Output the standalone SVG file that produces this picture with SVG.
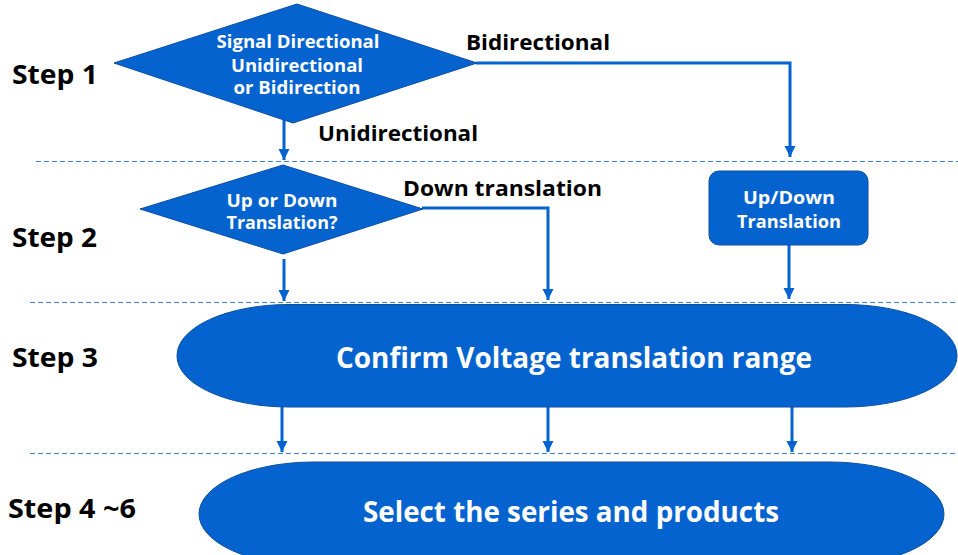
<svg xmlns="http://www.w3.org/2000/svg" width="958" height="555" viewBox="0 0 958 555">
  <style>
    .shape { fill: #0563CF; stroke: #0A4FA0; stroke-width: 1; }
    .wt { fill: #ffffff; font-family: "Open Sans", "Noto Sans", "DejaVu Sans", sans-serif; font-weight: bold; text-anchor: middle; }
    .bt { fill: #000000; font-family: "Open Sans", "Noto Sans", "DejaVu Sans", sans-serif; font-weight: bold; }
    .sep { stroke: #3F7FD6; stroke-width: 1; stroke-dasharray: 5 3; fill: none; }
    .conn { stroke: #0563CF; stroke-width: 3; fill: none; marker-end: url(#arrow); }
  </style>
  <defs>
    <marker id="arrow" markerUnits="userSpaceOnUse" markerWidth="12" markerHeight="12" refX="11" refY="6" orient="auto">
      <path d="M0,0.5 L11,6 L0,11.5 z" fill="#0563CF"/>
    </marker>
  </defs>

  <rect width="958" height="555" fill="#ffffff"/>

  <!-- step separators -->
  <g id="separators">
    <line class="sep" x1="36" y1="161.5" x2="958" y2="161.5"/>
    <line class="sep" x1="30" y1="302.5" x2="958" y2="302.5"/>
    <line class="sep" x1="30" y1="453.5" x2="958" y2="453.5"/>
  </g>

  <!-- step labels -->
  <g id="step-labels">
    <text class="bt" x="12" y="84" font-size="27" textLength="86" lengthAdjust="spacingAndGlyphs">Step 1</text>
    <text class="bt" x="12" y="247" font-size="27" textLength="85" lengthAdjust="spacingAndGlyphs">Step 2</text>
    <text class="bt" x="12" y="367" font-size="27" textLength="86" lengthAdjust="spacingAndGlyphs">Step 3</text>
    <text class="bt" x="8" y="518" font-size="27" textLength="128" lengthAdjust="spacingAndGlyphs">Step 4 ~6</text>
  </g>

  <!-- connectors -->
  <g id="connectors">
    <path class="conn" d="M284,118 L284,160"/>
    <path class="conn" d="M476,63 L790,63 L790,157"/>
    <path class="conn" d="M422,208 L548,208 L548,300"/>
    <path class="conn" d="M284,259 L284,301"/>
    <path class="conn" d="M789,245 L789,299"/>
    <path class="conn" d="M282,406 L282,452"/>
    <path class="conn" d="M548,406 L548,452"/>
    <path class="conn" d="M792,406 L792,452"/>
    <text class="bt" x="466" y="50" font-size="22" textLength="144" lengthAdjust="spacingAndGlyphs">Bidirectional</text>
    <text class="bt" x="318" y="141" font-size="22" textLength="160" lengthAdjust="spacingAndGlyphs">Unidirectional</text>
    <text class="bt" x="403" y="196" font-size="22" textLength="199" lengthAdjust="spacingAndGlyphs">Down translation</text>
  </g>

  <!-- decision: signal direction -->
  <g id="decision-direction">
    <polygon class="shape" points="297,4 477,63 293,123 114,63"/>
    <text class="wt" x="298" y="48" font-size="17.5" textLength="163" lengthAdjust="spacingAndGlyphs">Signal Directional</text>
    <text class="wt" x="297" y="72" font-size="17.5" textLength="132" lengthAdjust="spacingAndGlyphs">Unidirectional</text>
    <text class="wt" x="297" y="94" font-size="17.5" textLength="127" lengthAdjust="spacingAndGlyphs">or Bidirection</text>
  </g>

  <!-- decision: up or down -->
  <g id="decision-updown">
    <polygon class="shape" points="283,165 423,209 283,254 140,209"/>
    <text class="wt" x="282" y="207" font-size="17.5" textLength="111" lengthAdjust="spacingAndGlyphs">Up or Down</text>
    <text class="wt" x="282" y="229" font-size="17.5" textLength="111" lengthAdjust="spacingAndGlyphs">Translation?</text>
  </g>

  <!-- process: up/down translation -->
  <g id="process-updown">
    <rect class="shape" x="709" y="171" width="159" height="74" rx="10" ry="10"/>
    <text class="wt" x="789" y="204" font-size="17.5" textLength="92" lengthAdjust="spacingAndGlyphs">Up/Down</text>
    <text class="wt" x="789" y="228" font-size="17.5" textLength="104" lengthAdjust="spacingAndGlyphs">Translation</text>
  </g>

  <!-- step 3: voltage range -->
  <g id="confirm-range">
    <rect class="shape" x="177" y="304.5" width="780" height="102.5" rx="112" ry="51"/>
    <text class="wt" x="574" y="368" font-size="29" textLength="476" lengthAdjust="spacingAndGlyphs">Confirm Voltage translation range</text>
  </g>

  <!-- step 4-6: selection -->
  <g id="select-products">
    <rect class="shape" x="199" y="462" width="745" height="104" rx="115" ry="52"/>
    <text class="wt" x="571" y="522" font-size="29" textLength="416" lengthAdjust="spacingAndGlyphs">Select the series and products</text>
  </g>
</svg>
